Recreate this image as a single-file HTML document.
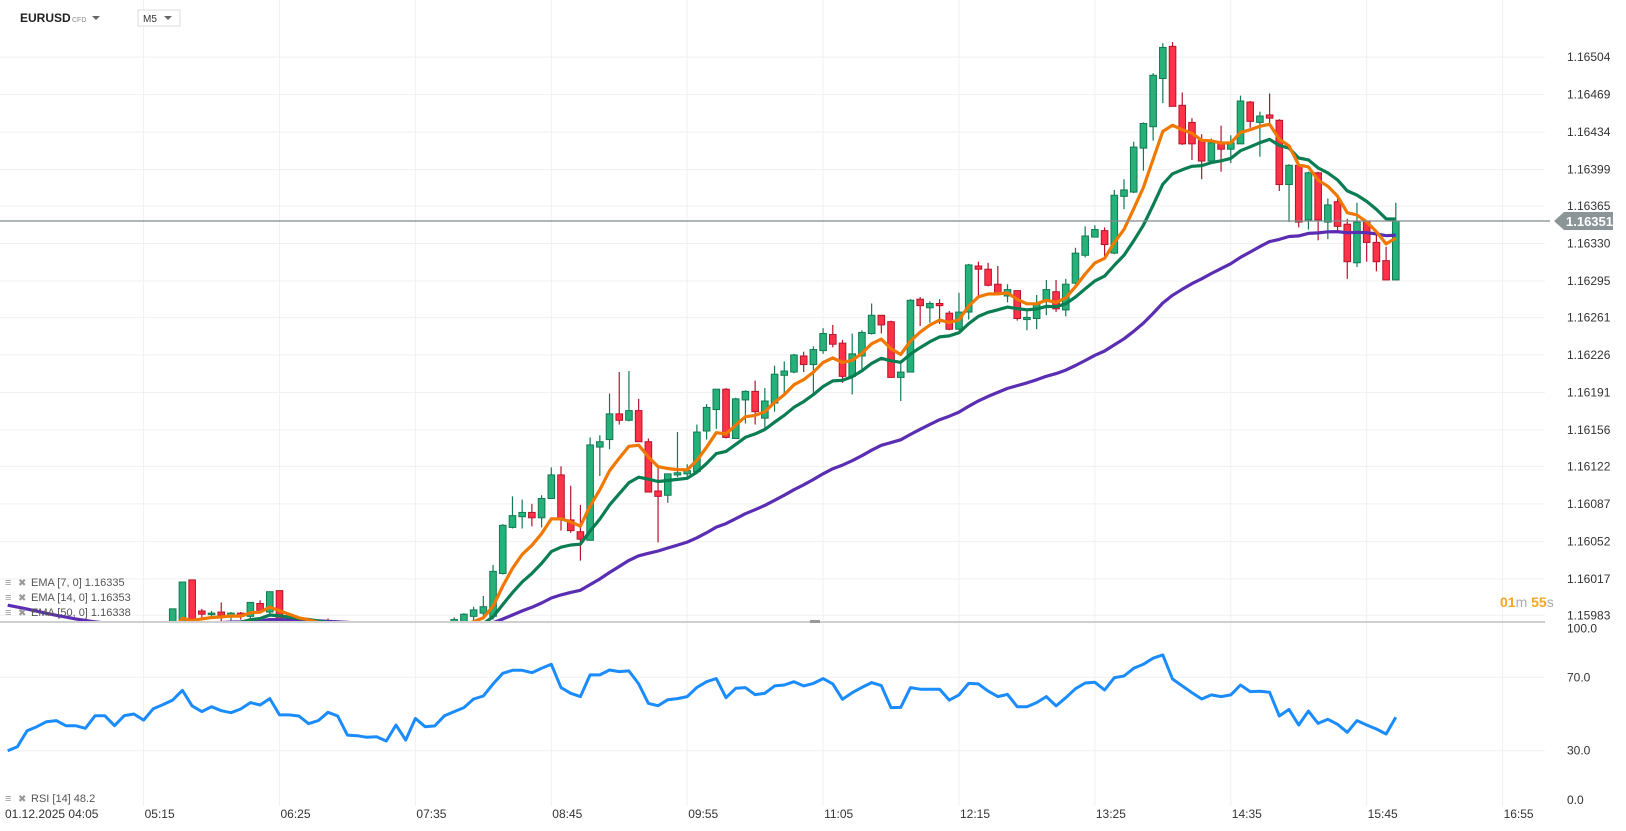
<!DOCTYPE html>
<html><head><meta charset="utf-8">
<style>
html,body{margin:0;padding:0;background:#fff;}
svg{display:block;font-family:"Liberation Sans",Arial,sans-serif;}
</style></head>
<body>
<svg id="chart" width="1626" height="831" viewBox="0 0 1626 831">
  <defs><clipPath id="mainClip"><rect x="0" y="0" width="1545" height="622"/></clipPath></defs>
  <g id="grid"></g>
  <g id="candles" clip-path="url(#mainClip)"></g>
  <g id="emas" clip-path="url(#mainClip)"></g>
  <g id="rsi"></g>
  <g id="axes"></g>
  <line x1="0" y1="622" x2="1545" y2="622" stroke="#d0d0d0" stroke-width="2"/>
  <rect x="810" y="620" width="10" height="3" fill="#999"/>
  <g>
    <text x="20" y="22" font-size="12" font-weight="bold" fill="#222">EURUSD</text>
    <text x="72" y="22" font-size="7" fill="#888">CFD</text>
    <path d="M92 16 L100 16 L96 20 Z" fill="#666"/>
    <rect x="138" y="10" width="42" height="16" fill="#fff" stroke="#ddd"/>
    <text x="143" y="22" font-size="10" fill="#333">M5</text>
    <path d="M164 16 L172 16 L168 20 Z" fill="#666"/>
  </g>
  <g id="legend"></g>
  <g>
    <text x="1500" y="607" font-size="14" font-weight="bold"><tspan fill="#f5a623">01</tspan><tspan fill="#aaa" font-weight="normal">m </tspan><tspan fill="#f5a623">55</tspan><tspan fill="#aaa" font-weight="normal">s</tspan></text>
  </g>
</svg>
<script>
const open=[1.15958,1.15953,1.15948,1.15943,1.15938,1.15936,1.15938,1.15940,1.15938,1.15942,
1.15946,1.15950,1.15954,1.15957,1.15962,1.15965,1.15969,1.15977,1.15972,1.16016,
1.15987,1.15984,1.15986,1.15982,1.15985,1.15982,1.15994,1.15986,1.16006,1.15977,
1.15974,1.15971,1.15973,1.15969,1.15967,1.15965,1.15962,1.15959,1.15957,1.15955,
1.15957,1.15959,1.15961,1.15965,1.15967,1.15971,1.15974,1.15977,1.15982,1.15985,
1.15982,1.16022,1.16065,1.16075,1.16079,1.16074,1.16092,1.16114,1.16072,1.16061,
1.16053,1.16140,1.16147,1.16171,1.16165,1.16174,1.16145,1.16099,1.16095,1.16114,
1.16115,1.16117,1.16155,1.16175,1.16194,1.16148,1.16184,1.16192,1.16167,1.16181,
1.16207,1.16210,1.16225,1.16217,1.16230,1.16245,1.16237,1.16206,1.16225,1.16246,
1.16263,1.16257,1.16205,1.16210,1.16278,1.16270,1.16274,1.16265,1.16250,1.16266,
1.16309,1.16306,1.16292,1.16281,1.16286,1.16259,1.16260,1.16277,1.16285,1.16268,
1.16293,1.16319,1.16336,1.16342,1.16321,1.16374,1.16378,1.16419,1.16439,1.16484,
1.16514,1.16459,1.16443,1.16426,1.16407,1.16424,1.16418,1.16423,1.16462,1.16443,
1.16450,1.16445,1.16385,1.16403,1.16352,1.16396,1.16350,1.16369,1.16348,1.16312,
1.16350,1.16331,1.16314,1.16296];
const close=[1.15953,1.15948,1.15943,1.15938,1.15936,1.15938,1.15940,1.15938,1.15942,1.15946,
1.15950,1.15954,1.15957,1.15962,1.15965,1.15969,1.15972,1.15989,1.16014,1.15972,
1.15984,1.15985,1.15983,1.15985,1.15982,1.15995,1.15987,1.16005,1.15977,1.15974,
1.15971,1.15973,1.15969,1.15967,1.15965,1.15962,1.15959,1.15957,1.15955,1.15957,
1.15959,1.15961,1.15965,1.15967,1.15971,1.15973,1.15979,1.15984,1.15988,1.15991,
1.16024,1.16067,1.16076,1.16079,1.16074,1.16092,1.16114,1.16073,1.16062,1.16054,
1.16142,1.16145,1.16171,1.16165,1.16174,1.16145,1.16098,1.16094,1.16115,1.16116,
1.16118,1.16154,1.16177,1.16194,1.16149,1.16185,1.16192,1.16173,1.16183,1.16208,
1.16211,1.16226,1.16217,1.16231,1.16246,1.16236,1.16206,1.16227,1.16247,1.16263,
1.16254,1.16205,1.16210,1.16277,1.16272,1.16274,1.16272,1.16250,1.16266,1.16310,
1.16306,1.16291,1.16283,1.16287,1.16260,1.16261,1.16274,1.16287,1.16269,1.16292,
1.16321,1.16337,1.16343,1.16329,1.16375,1.16380,1.16420,1.16442,1.16487,1.16513,
1.16458,1.16423,1.16423,1.16407,1.16424,1.16418,1.16424,1.16463,1.16444,1.16449,
1.16447,1.16385,1.16403,1.16350,1.16396,1.16352,1.16366,1.16346,1.16313,1.16350,
1.16331,1.16313,1.16296,1.16351];
const high=[1.15960,1.15955,1.15950,1.15945,1.15940,1.15940,1.15942,1.15942,1.15944,1.15948,
1.15952,1.15956,1.15959,1.15964,1.15967,1.15971,1.15974,1.15989,1.16014,1.16016,
1.15989,1.15987,1.15995,1.15986,1.15986,1.15995,1.15997,1.16005,1.16006,1.15979,
1.15976,1.15980,1.15975,1.15980,1.15969,1.15967,1.15964,1.15961,1.15959,1.15959,
1.15961,1.15963,1.15967,1.15969,1.15973,1.15975,1.15981,1.15985,1.15991,1.16001,
1.16030,1.16068,1.16094,1.16091,1.16087,1.16095,1.16121,1.16122,1.16104,1.16086,
1.16149,1.16151,1.16190,1.16210,1.16211,1.16185,1.16148,1.16122,1.16115,1.16154,
1.16124,1.16161,1.16180,1.16194,1.16195,1.16186,1.16193,1.16202,1.16195,1.16216,
1.16220,1.16227,1.16229,1.16234,1.16251,1.16254,1.16240,1.16246,1.16249,1.16274,
1.16263,1.16258,1.16218,1.16278,1.16280,1.16276,1.16278,1.16267,1.16284,1.16311,
1.16313,1.16312,1.16309,1.16292,1.16286,1.16267,1.16282,1.16296,1.16296,1.16297,
1.16326,1.16346,1.16347,1.16345,1.16380,1.16390,1.16425,1.16443,1.16489,1.16517,
1.16518,1.16471,1.16447,1.16432,1.16428,1.16440,1.16431,1.16468,1.16463,1.16453,
1.16470,1.16446,1.16404,1.16403,1.16397,1.16397,1.16372,1.16372,1.16353,1.16368,
1.16351,1.16338,1.16327,1.16368];
const low=[1.15950,1.15945,1.15940,1.15935,1.15933,1.15933,1.15935,1.15935,1.15935,1.15939,
1.15943,1.15947,1.15951,1.15954,1.15959,1.15962,1.15966,1.15972,1.15971,1.15969,
1.15981,1.15981,1.15977,1.15977,1.15979,1.15979,1.15985,1.15984,1.15975,1.15971,
1.15968,1.15968,1.15966,1.15964,1.15962,1.15959,1.15956,1.15954,1.15952,1.15952,
1.15952,1.15954,1.15958,1.15962,1.15964,1.15968,1.15971,1.15973,1.15977,1.15979,
1.15979,1.16021,1.16064,1.16064,1.16066,1.16065,1.16092,1.16062,1.16060,1.16034,
1.16053,1.16113,1.16138,1.16161,1.16164,1.16145,1.16098,1.16051,1.16088,1.16112,
1.16110,1.16115,1.16147,1.16157,1.16148,1.16148,1.16162,1.16161,1.16158,1.16173,
1.16190,1.16209,1.16210,1.16190,1.16227,1.16233,1.16200,1.16189,1.16213,1.16245,
1.16246,1.16205,1.16183,1.16210,1.16253,1.16256,1.16255,1.16249,1.16249,1.16259,
1.16280,1.16290,1.16282,1.16275,1.16258,1.16249,1.16250,1.16263,1.16266,1.16262,
1.16292,1.16317,1.16336,1.16316,1.16320,1.16362,1.16377,1.16398,1.16426,1.16461,
1.16458,1.16422,1.16408,1.16390,1.16405,1.16397,1.16405,1.16423,1.16438,1.16411,
1.16442,1.16379,1.16350,1.16345,1.16343,1.16333,1.16334,1.16342,1.16297,1.16308,
1.16313,1.16304,1.16296,1.16296];
const rsiValues=[30,32.2,40.9,43.1,45.8,46.4,43.6,43.6,42.2,49.1,
49.1,43.6,49.1,50,46.7,52.9,55.1,57.6,62.9,54.4,
51.3,54,51.8,50.7,52.7,56.2,54.9,58.4,49.5,49.5,
48.9,44.7,46.4,50.9,48.9,38.5,38.2,37.3,37.6,35.3,
44,35.8,47.6,43.1,43.5,49.1,51.3,53.5,58.2,59.8,
66.4,72.2,73.8,73.8,72.5,74.9,77.1,64.4,61.3,59.5,
71.3,71.3,74,73.1,73.5,66.4,55.8,54.5,57.8,58.4,
59.5,64.5,67.6,69.3,58.9,64,64.4,60.5,61.3,65.3,
65.8,67.6,65.3,66.7,69.3,66.4,58,61.6,64.5,67.1,
65.5,53.5,53.6,64.4,63.5,63.5,63.5,57.6,60.4,66.7,
66.4,62.5,59.5,60.7,54,54,56.2,59.5,54.4,58.9,
63.8,66.9,67.3,63.1,69.8,70.7,74.9,77.1,80.4,82.2,
69.1,65.3,61.6,58.2,60.4,59.5,60.4,65.8,62.2,62.4,
61.8,48.9,52.5,44,51.6,44.9,47.1,44.4,40,46.4,
44,41.8,39.1,48.2];
const priceTicks=[1.16504,1.16469,1.16434,1.16399,1.16365,1.16330,1.16295,1.16261,1.16226,1.16191,1.16156,1.16122,1.16087,1.16052,1.16017,1.15983];
const timeTickLabels=['05:15','06:25','07:35','08:45','09:55','11:05','12:15','13:25','14:35','15:45','16:55'];
const timeTickIndex=[14,28,42,56,70,84,98,112,126,140,154];
const rsiTicks=[100,70,30,0];
const emaPeriods=[7,14,50];
const emaSeeds=[1.15953,1.15960,1.15994];
const emaColors=['#f07800','#0b7d52','#5a2db3'];
const lastPrice=1.16351;

const NS='http://www.w3.org/2000/svg';
function mk(tag,attrs,parent){const e=document.createElementNS(NS,tag);for(const k in attrs)e.setAttribute(k,attrs[k]);parent.appendChild(e);return e;}
const xOf=k=>7.7+9.707*k;
const yOf=p=>206+(1.16365-p)*1e5*1.0714;
const yR=r=>677.3+(70-r)*1.835;

const grid=document.getElementById('grid');
const axes=document.getElementById('axes');
priceTicks.forEach(p=>{
  const l=mk('line',{x1:0,x2:1545,y1:yOf(p),y2:yOf(p),stroke:'#f1f1f1','stroke-width':1},grid);
  
  
  const t=mk('text',{x:1567,y:yOf(p)+4,'font-size':12,fill:'#333'},axes);
  t.textContent=p.toFixed(5);
  
  
});
timeTickIndex.forEach((k,i)=>{
  const l=mk('line',{x1:xOf(k),x2:xOf(k),y1:0,y2:806,stroke:'#f1f1f1','stroke-width':1},grid);
  
  
  const t=mk('text',{x:xOf(k)+1,y:818,'font-size':12,fill:'#333','text-anchor':'start'},axes);
  t.textContent=timeTickLabels[i];
  
  
});
const d0=mk('text',{x:5,y:818,'font-size':12,fill:'#333'},axes);
d0.textContent='01.12.2025  04:05';


rsiTicks.forEach(r=>{
  if(r===70||r===30){const l=mk('line',{x1:0,x2:1545,y1:yR(r),y2:yR(r),stroke:'#f1f1f1'},grid);
    
    }
  const yy=r===100?yR(r)+10:(r===0?yR(r)-2:yR(r)+4);
  const t=mk('text',{x:1567,y:yy,'font-size':12,fill:'#333'},axes);
  t.textContent=r.toFixed(1);
  
  
});

const cg=document.getElementById('candles');
for(let k=0;k<close.length;k++){
  const up=close[k]>=open[k];
  const fill=up?'#26b07a':'#ff3248', stroke=up?'#117a52':'#b5132c';
  const x=xOf(k);
  const w=mk('line',{x1:x,x2:x,y1:yOf(high[k]),y2:yOf(low[k]),stroke:stroke,'stroke-width':1.2},cg);
  
  
  const top=Math.min(yOf(open[k]),yOf(close[k]));
  const h=Math.max(1.5,Math.abs(yOf(open[k])-yOf(close[k])));
  const b=mk('rect',{x:x-3.3,y:top,width:6.6,height:h,fill:fill,stroke:stroke,'stroke-width':1},cg);
  
  
}
const eg=document.getElementById('emas');
const emaLast=[];
emaPeriods.slice().reverse().forEach((n,ri)=>{
  const idx=emaPeriods.length-1-ri;
  const a=2/(n+1);let e=emaSeeds[idx];const pts=[];
  close.forEach((c,k)=>{e=a*c+(1-a)*e;pts.push(xOf(k).toFixed(1)+','+yOf(e).toFixed(1));});
  emaLast[idx]=e;
  const pl=mk('polyline',{points:pts.join(' '),fill:'none',stroke:emaColors[idx],'stroke-width':3.2,'stroke-linejoin':'round'},eg);
  
  
});
const lp=mk('line',{x1:0,x2:1550,y1:yOf(lastPrice),y2:yOf(lastPrice),stroke:'#7f8b8e','stroke-width':1.2},axes);


const ly=yOf(lastPrice);
const lb=mk('path',{d:`M1554 ${ly} L1564 ${ly-9} L1613 ${ly-9} L1613 ${ly+9} L1564 ${ly+9} Z`,fill:'#8b9598'},axes);


const lt=mk('text',{x:1566,y:ly+5,'font-size':13,'font-weight':'bold',fill:'#fff'},axes);
lt.textContent=lastPrice.toFixed(5);


const rg=document.getElementById('rsi');
const rp=mk('polyline',{points:rsiValues.map((r,k)=>xOf(k).toFixed(1)+','+yR(r).toFixed(1)).join(' '),fill:'none',stroke:'#1a8cff','stroke-width':3,'stroke-linejoin':'round'},rg);


const lg=document.getElementById('legend');
const legendTexts=['EMA [7, 0] '+emaLast[0].toFixed(5),'EMA [14, 0] '+emaLast[1].toFixed(5),'EMA [50, 0] '+emaLast[2].toFixed(5)];
const legendY=[582,597,612];
legendTexts.forEach((s,i)=>{
  const ic=mk('text',{x:5,y:legendY[i]+4,'font-size':11,fill:'#999'},lg);
  ic.textContent='≡';
  
  
  const cx=mk('text',{x:18,y:legendY[i]+4,'font-size':10,fill:'#999'},lg);
  cx.textContent='✖';
  
  
  const t=mk('text',{x:31,y:legendY[i]+4,'font-size':11,fill:'#555'},lg);
  t.textContent=s;
  
  
});
const ri=mk('text',{x:5,y:802,'font-size':11,fill:'#999'},lg);
ri.textContent='≡';


const rx=mk('text',{x:18,y:802,'font-size':10,fill:'#999'},lg);
rx.textContent='✖';


const rt=mk('text',{x:31,y:802,'font-size':11,fill:'#555'},lg);
rt.textContent='RSI [14] '+rsiValues[rsiValues.length-1].toFixed(1);


</script>
</body></html>
